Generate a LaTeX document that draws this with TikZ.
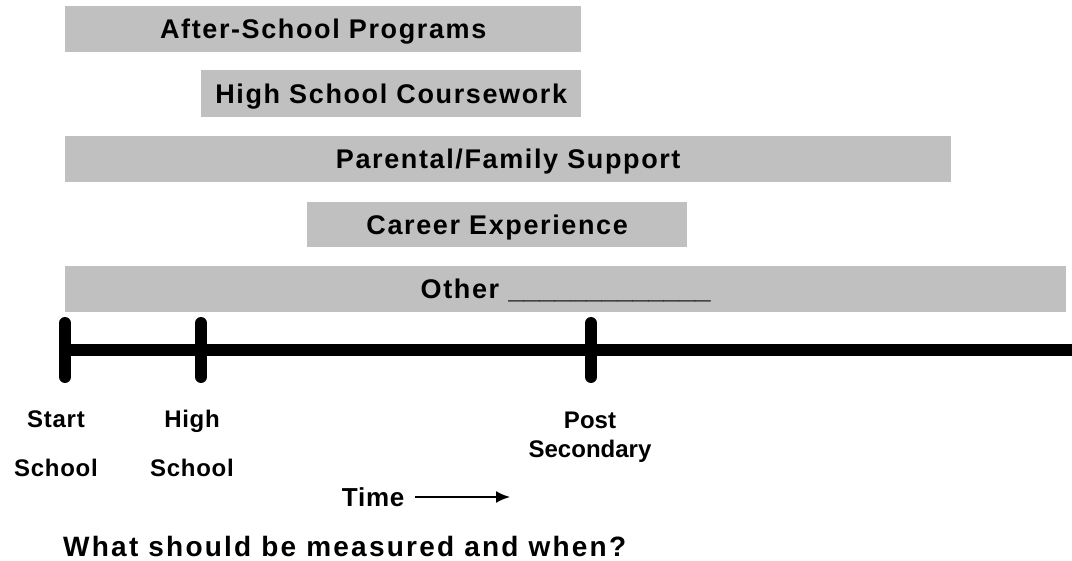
\documentclass[tikz,border=0pt]{standalone}
\usepackage{fontspec}
\setmainfont{Liberation Sans}
\newfontfamily\barfont[LetterSpace=6]{Liberation Sans}
\newfontfamily\lblfont[LetterSpace=3]{Liberation Sans}
\newfontfamily\askfont[LetterSpace=8]{Liberation Sans}
\usetikzlibrary{positioning, arrows.meta}
\definecolor{barfill}{HTML}{C0C0C0}

\begin{document}
\begin{tikzpicture}[x=1pt, y=-1pt,
  bar/.style={fill=barfill, draw=none, anchor=north west, inner sep=0pt,
              minimum height=46pt, text height=19.5pt, text depth=0pt,
              font=\barfont\bfseries\fontsize{27}{32}\selectfont},
  tick/.style={line width=12pt, line cap=round},
  axis/.style={line width=12.5pt},
  lbl/.style={anchor=base, align=center, font=\lblfont\bfseries\fontsize{24}{29}\selectfont},
  arrow/.style={-{Latex[length=14pt, width=12pt]}, line width=2pt}
]
\useasboundingbox (0,0) rectangle (1072,561);

% bars
\node[bar, minimum width=516pt] (b1) at (65,6) {After-School Programs};
\node[bar, minimum width=380pt, minimum height=47pt] (b2) at (201,70) {High School Coursework};
\node[bar, minimum width=886pt] (b3) at (65,136) {Parental/Family Support};
\node[bar, minimum width=380pt, minimum height=45pt] (b4) at (307,202) {Career Experience};
\node[bar, minimum width=1001pt] (b5) at (65,266)
  {Other {\addfontfeature{LetterSpace=0}\fontsize{28}{32}\selectfont\_\_\_\_\_\_\_\_\_\_\_\_\_}};

% time line
\coordinate (t0) at (65,350);
\coordinate (t1) at (201,350);
\coordinate (t2) at (591,350);
\coordinate (tend) at (1072,350);
\draw[axis] (t0) -- (tend);
\foreach \t in {t0,t1,t2}
  \draw[tick] ([yshift=-27pt]\t) -- ([yshift=27pt]\t);

% labels
\node[lbl] (start) at (56,476) {Start\\[20pt]School};
\node[lbl] (high) at (192,476) {High\\[20pt]School};
\node[lbl, font=\bfseries\fontsize{24}{29}\selectfont] (post) at (590,457) {Post\\Secondary};

\node[lbl, anchor=base east, font=\lblfont\bfseries\fontsize{26}{30}\selectfont] (time) at (408,507) {Time};
\coordinate (tarrow) at (510,497);
\coordinate (tstart) at ([xshift=7pt]time.east |- tarrow);
\draw[arrow] (tstart) -- (tarrow);

\node[anchor=base west, inner sep=0pt, font=\askfont\bfseries\fontsize{28}{32}\selectfont] (question) at (63,556)
  {What should be measured and when?};
\end{tikzpicture}
\end{document}
